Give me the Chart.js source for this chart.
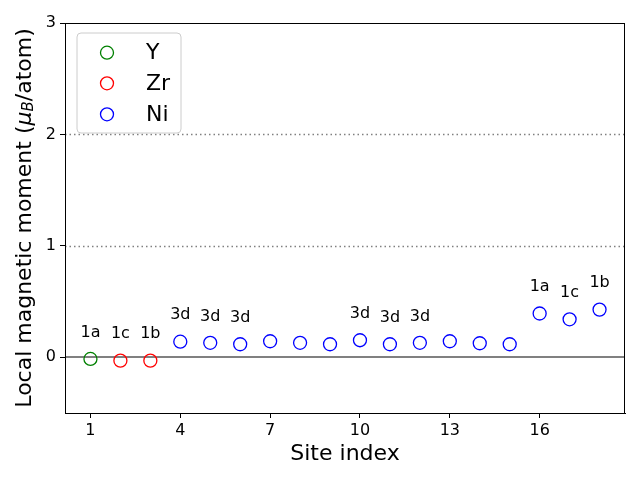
<!DOCTYPE html>
<html><head><meta charset="utf-8">
<script src="https://cdn.jsdelivr.net/npm/chart.js@4/dist/chart.umd.min.js"></script>
<style>html,body{margin:0;padding:0;background:#fff}#wrap{width:640px;height:480px}</style>
</head><body><div id="wrap"><canvas id="c" width="640" height="480"></canvas></div>
<script>
const ySites = [1];
const yMoments = [-0.015];
const zrSites = [2, 3];
const zrMoments = [-0.03, -0.03];
const niSites = [4,5,6,7,8,9,10,11,12,13,14,15,16,17,18];
const niMoments = [0.14,0.13,0.117,0.144,0.13,0.117,0.153,0.117,0.13,0.144,0.126,0.117,0.393,0.341,0.428];
const siteLabels = ["1a","1c","1b","3d","3d","3d","","","","3d","3d","3d","","","","1a","1c","1b"];
const xTicks = [1,4,7,10,13,16];
const yTicks = [0,1,2,3];
const refLines = [0,1,2];
const legendNames = ["Y","Zr","Ni"];
const colors = ["#008000","#ff0000","#0000ff"];
const FONT = "'DejaVu Sans', sans-serif";

function pts(xs, ys){ return xs.map((x,i)=>({x:x,y:ys[i]})); }
const allSites = ySites.concat(zrSites, niSites);
const allMoments = yMoments.concat(zrMoments, niMoments);

const decor = {
  id:'decor',
  beforeDatasetsDraw(chart){
    const {ctx, chartArea:a, scales:{x,y}} = chart;
    ctx.save();
    refLines.forEach(v=>{
      const py = v===0 ? Math.round(y.getPixelForValue(v)) : Math.round(y.getPixelForValue(v))+0.5;
      ctx.beginPath();
      ctx.strokeStyle = '#808080';
      ctx.lineWidth = v===0 ? 2 : 1.5;
      ctx.setLineDash(v===0 ? [] : [1.5,3]);
      ctx.moveTo(a.left, py); ctx.lineTo(a.right, py); ctx.stroke();
    });
    ctx.restore();
  },
  afterDraw(chart){
    const {ctx, chartArea:a, scales:{x,y}} = chart;
    ctx.save();
    ctx.strokeStyle='#000'; ctx.lineWidth=1; ctx.setLineDash([]);
    ctx.strokeRect(a.left+0.5, a.top+0.5, a.right-a.left-1, a.bottom-a.top);
    ctx.fillStyle='#000'; ctx.font='16px '+FONT; ctx.textAlign='center'; ctx.textBaseline='alphabetic';
    allSites.forEach((s,i)=>{
      const lab = siteLabels[s-1];
      if(!lab) return;
      ctx.fillText(lab, x.getPixelForValue(s), y.getPixelForValue(allMoments[i]+0.2));
    });
    ctx.font='22px '+FONT; ctx.textBaseline='middle';
    ctx.fillText('Site index', (a.left+a.right)/2, 454);
    ctx.translate(25, (a.top+a.bottom)/2);
    ctx.rotate(-Math.PI/2);
    const segs = [
      {t:'Local magnetic moment (', f:'22px '+FONT, dy:0},
      {t:'μ', f:'italic 22px '+FONT, dy:0},
      {t:'B', f:'italic 15px '+FONT, dy:4},
      {t:'/atom)', f:'22px '+FONT, dy:0}
    ];
    let w=0; segs.forEach(s=>{ctx.font=s.f; s.w=ctx.measureText(s.t).width; w+=s.w;});
    let cx=-w/2; ctx.textAlign='left';
    segs.forEach(s=>{ctx.font=s.f; ctx.fillText(s.t, cx, s.dy); cx+=s.w;});
    ctx.restore();
    ctx.save();
    const lx=77, ly=33, lw=104, lh=100, r=4;
    ctx.beginPath();
    ctx.moveTo(lx+r,ly); ctx.lineTo(lx+lw-r,ly); ctx.quadraticCurveTo(lx+lw,ly,lx+lw,ly+r);
    ctx.lineTo(lx+lw,ly+lh-r); ctx.quadraticCurveTo(lx+lw,ly+lh,lx+lw-r,ly+lh);
    ctx.lineTo(lx+r,ly+lh); ctx.quadraticCurveTo(lx,ly+lh,lx,ly+lh-r);
    ctx.lineTo(lx,ly+r); ctx.quadraticCurveTo(lx,ly,lx+r,ly); ctx.closePath();
    ctx.fillStyle='rgba(255,255,255,0.8)'; ctx.fill();
    ctx.strokeStyle='#cccccc'; ctx.lineWidth=1; ctx.stroke();
    const rows=[52.7,83.3,114.3];
    legendNames.forEach((n,i)=>{
      ctx.beginPath(); ctx.arc(107, rows[i], 6.5, 0, Math.PI*2);
      ctx.strokeStyle=colors[i]; ctx.lineWidth=1.3; ctx.stroke();
      ctx.fillStyle='#000'; ctx.font='22px '+FONT; ctx.textAlign='left'; ctx.textBaseline='middle';
      ctx.fillText(n, 146, rows[i]+1);
    });
    ctx.restore();
  }
};

function ds(label, xs, ys, color){
  return {label:label, data:pts(xs,ys), showLine:false, pointRadius:6.5, pointHoverRadius:6.5,
    pointBorderWidth:1.3, borderColor:color, backgroundColor:'rgba(0,0,0,0)', pointBackgroundColor:'rgba(0,0,0,0)'};
}

new Chart(document.getElementById('c'), {
  type:'scatter',
  data:{datasets:[ds(legendNames[0],ySites,yMoments,colors[0]), ds(legendNames[1],zrSites,zrMoments,colors[1]), ds(legendNames[2],niSites,niMoments,colors[2])]},
  options:{
    responsive:false, animation:false, devicePixelRatio:1,
    layout:{padding:{top:23,right:15,left:0,bottom:0}},
    plugins:{legend:{display:false}, tooltip:{enabled:false}},
    scales:{
      x:{type:'linear', min:0.15, max:18.85,
        afterBuildTicks(s){ s.ticks = xTicks.map(v=>({value:v})); },
        afterFit(s){ s.height = 67; },
        grid:{display:true, drawOnChartArea:false, drawTicks:true, tickLength:5, color:'#000', tickColor:'#000'},
        border:{display:true, color:'#000'},
        ticks:{color:'#000', font:{family:FONT, size:16}, padding:3, maxRotation:0, autoSkip:false}
      },
      y:{type:'linear', min:-0.5, max:3,
        afterBuildTicks(s){ s.ticks = yTicks.map(v=>({value:v})); },
        afterFit(s){ s.width = 65; },
        grid:{display:true, drawOnChartArea:false, drawTicks:true, tickLength:5, color:'#000', tickColor:'#000'},
        border:{display:true, color:'#000'},
        ticks:{color:'#000', font:{family:FONT, size:16}, padding:4}
      }
    }
  },
  plugins:[decor]
});
</script></body></html>
